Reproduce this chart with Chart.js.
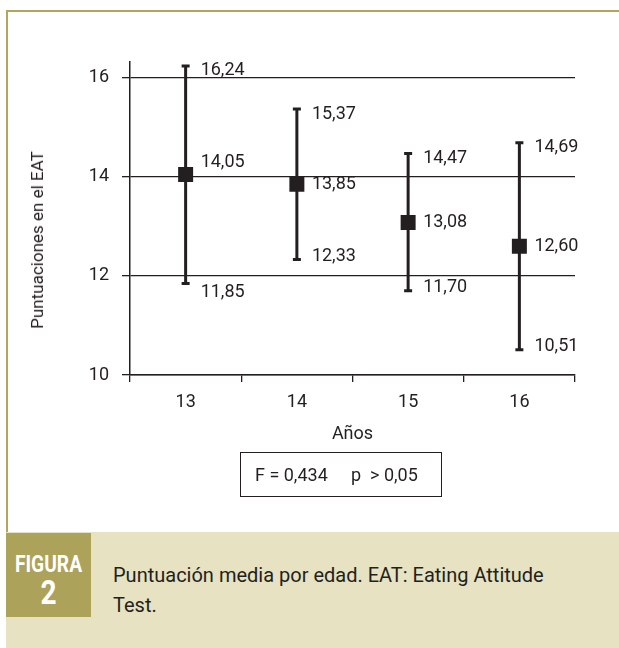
<!DOCTYPE html>
<html>
<head>
<meta charset="utf-8">
<script src="https://cdn.jsdelivr.net/npm/chart.js@4.4.1/dist/chart.umd.min.js"></script>
<style>
  body { margin: 0; background: #fff; }
  #page { position: relative; width: 619px; height: 648px; overflow: hidden; font-family: Roboto, "Liberation Sans", sans-serif; color: #231f20; }
  #frame { position: absolute; left: 6px; top: 10px; width: 620px; height: 650px; border-top: 2px solid #b1a65c; border-left: 2px solid #b1a65c; }
  #wrap { position: absolute; left: 10px; top: 14px; width: 600px; height: 440px; }
  #ytitle { position: absolute; left: 37px; top: 240px; transform: translate(-50%, -50%) rotate(-90deg); white-space: nowrap; font-size: 17px; }
  #stat { position: absolute; left: 240px; top: 452px; width: 202px; height: 45px; border: 1px solid #231f20; font-size: 18px; line-height: 43px; box-sizing: border-box; }
  #stat span { position: absolute; top: 0; }
  #caption { position: absolute; left: 6px; top: 532px; width: 613px; height: 116px; background: #e7e2c1; }
  #badge { position: absolute; left: 0; top: 1px; width: 85px; height: 84px; background: #ada25a; color: #fff; text-align: center; font-weight: bold; }
  #badge .a { position: absolute; left: -20px; right: -20px; top: 19px; font-size: 24px; line-height: 24px; transform: scaleX(0.8); }
  #badge .b { position: absolute; left: 0; right: 0; top: 43px; font-size: 33px; line-height: 34px; transform: scaleX(0.85); }
  #captext { position: absolute; left: 107px; top: 28px; font-size: 20px; line-height: 30px; width: 470px; }
</style>
</head>
<body>
<div id="page">
  <div id="frame"></div>
  <div id="wrap"><canvas id="myChart"></canvas></div>
  <div id="ytitle">Puntuaciones en el EAT</div>
  <div id="stat"><span style="left:14px">F = 0,434</span><span style="left:110px">p &nbsp;&gt; 0,05</span></div>
  <div id="caption">
    <div id="badge"><div class="a">FIGURA</div><div class="b">2</div></div>
    <div id="captext">Puntuación media por edad. EAT: Eating Attitude Test.</div>
  </div>
</div>
<script>
'use strict';

// Data
const ages = ['13', '14', '15', '16'];
const meanScores = [14.05, 13.85, 13.08, 12.60];
const upperScores = [16.24, 15.37, 14.47, 14.69];
const lowerScores = [11.85, 12.33, 11.70, 10.51];
const yTicks = [10, 12, 14, 16];

const ink = '#231f20';
const fontName = 'Roboto, "Liberation Sans", sans-serif';

function fmt(v){
  return v.toFixed(2).replace('.', ',');
}

// whiskers + caps under the squares, value labels on top
const errorBars = {
  id: 'errorBars',
  beforeDatasetsDraw(chart){
    const c = chart.ctx;
    const x = chart.scales.x;
    const y = chart.scales.y;
    c.save();
    c.strokeStyle = ink;
    c.lineWidth = 3;
    for(let i = 0; i < ages.length; i++){
      const px = x.getPixelForValue(i);
      const top = y.getPixelForValue(upperScores[i]);
      const bot = y.getPixelForValue(lowerScores[i]);
      c.beginPath();
      c.moveTo(px, top);
      c.lineTo(px, bot);
      c.moveTo(px - 4, top);
      c.lineTo(px + 4, top);
      c.moveTo(px - 4, bot);
      c.lineTo(px + 4, bot);
      c.stroke();
    }
    c.restore();
  },
  afterDatasetsDraw(chart){
    const c = chart.ctx;
    const x = chart.scales.x;
    const y = chart.scales.y;
    const grid = yTicks.map(v => y.getPixelForValue(v));
    c.save();
    c.fillStyle = ink;
    c.font = '18px ' + fontName;
    c.textBaseline = 'middle';
    c.textAlign = 'left';
    for(let i = 0; i < ages.length; i++){
      const px = x.getPixelForValue(i) + 15;
      const top = y.getPixelForValue(upperScores[i]);
      const bot = y.getPixelForValue(lowerScores[i]);
      let mid = y.getPixelForValue(meanScores[i]);
      // keep the mean label off a grid line
      if(grid.some(g => Math.abs(g - mid) < 6)){
        mid -= 12;
      }
      let low = bot - 3;
      if(grid.some(g => bot - g > 0 && bot - g < 13)){
        low = bot + 9;
      }
      c.fillText(fmt(upperScores[i]), px, top + 5);
      c.fillText(fmt(meanScores[i]), px, mid);
      c.fillText(fmt(lowerScores[i]), px, low);
    }
    c.restore();
  }
};

const ctx = document.getElementById('myChart');

new Chart(ctx, {
  type: 'line',
  data: {
    labels: ages,
    datasets: [{
      label: 'Media',
      data: meanScores,
      showLine: false,
      pointStyle: 'rect',
      pointRadius: 10.6,
      pointHoverRadius: 10.6,
      pointBackgroundColor: ink,
      pointBorderWidth: 0
    }]
  },
  options: {
    responsive: true,
    maintainAspectRatio: false,
    animation: false,
    events: [],
    layout: { padding: { top: 48, right: 35, left: 0, bottom: 0 } },
    plugins: {
      legend: { display: false },
      tooltip: { enabled: false }
    },
    scales: {
      x: {
        offset: true,
        grid: { offset: true, drawOnChartArea: false, color: ink, lineWidth: 1.3, tickLength: 7 },
        border: { color: ink, width: 1.5 },
        ticks: { color: ink, font: { family: fontName, size: 18 }, padding: 10 },
        title: { display: true, text: 'Años', color: ink, font: { family: fontName, size: 18 }, padding: { top: 0, bottom: 9 } },
        afterFit(scale){ scale.height = 79; }
      },
      y: {
        min: 10,
        max: 16.32,
        afterBuildTicks(scale){ scale.ticks = yTicks.map(v => ({ value: v })); },
        grid: { color: ink, lineWidth: 1.3, tickLength: 8 },
        border: { color: ink, width: 1.5 },
        ticks: { color: ink, font: { family: fontName, size: 18 }, padding: 13 },
        afterFit(scale){ scale.width = 120; }
      }
    }
  },
  plugins: [errorBars]
});
</script>
</body>
</html>
